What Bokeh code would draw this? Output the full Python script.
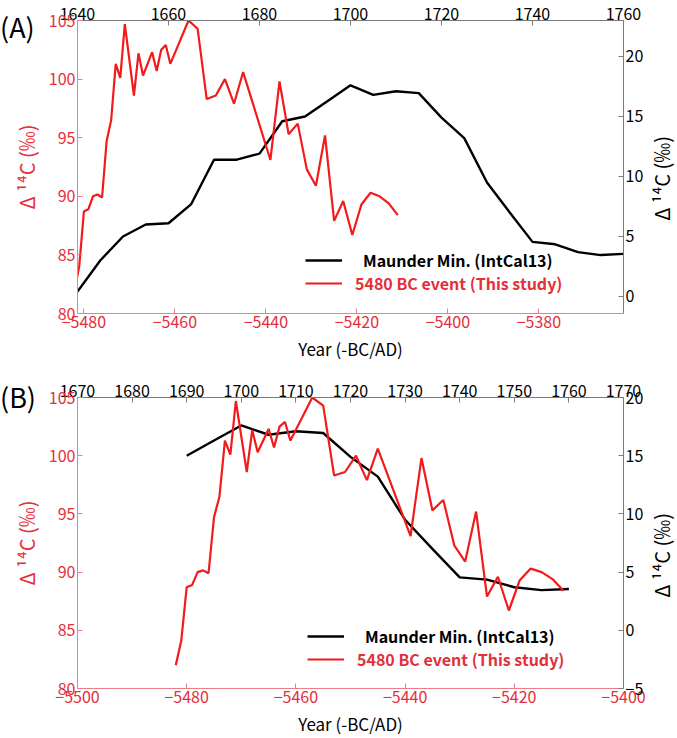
from bokeh.plotting import figure
from bokeh.models import (Range1d, LinearAxis, FixedTicker, CustomJSTickFormatter,
                          Legend, LegendItem, Div)
from bokeh.layouts import column
from bokeh.embed import file_html
from bokeh.resources import INLINE

# ---------------- data ----------------
# 5480 BC event (This study): year (BC as negative) and Delta14C (permil)
event_years = [-5482, -5481, -5480, -5479, -5478, -5477, -5476, -5475, -5474, -5473,
               -5472, -5471, -5469, -5468, -5467, -5465, -5464, -5463, -5462, -5461,
               -5457, -5455, -5453, -5451, -5449, -5447, -5445, -5439, -5437, -5435,
               -5433, -5431, -5429, -5427, -5425, -5423, -5421, -5419, -5417, -5415,
               -5413, -5411]
event_d14c = [82.0, 84.1, 88.7, 88.9, 90.0, 90.15, 89.9, 94.7, 96.5, 101.3,
              100.1, 104.7, 98.6, 102.2, 100.3, 102.3, 100.7, 102.5, 102.9, 101.3,
              105.0, 104.3, 98.3, 98.6, 100.0, 97.9, 100.6, 93.1, 99.8, 95.3,
              96.2, 92.3, 90.9, 95.2, 87.9, 89.6, 86.7, 89.3, 90.3, 90.0,
              89.4, 88.4]

# Maunder Minimum (IntCal13): year AD and Delta14C (permil)
maunder_years = [1640, 1645, 1650, 1655, 1660, 1665, 1670, 1675, 1680, 1685, 1690,
                 1695, 1700, 1705, 1710, 1715, 1720, 1725, 1730, 1735, 1740, 1745,
                 1750, 1755, 1760]
maunder_d14c = [0.4, 3.0, 5.0, 6.0, 6.1, 7.7, 11.4, 11.4, 11.9, 14.6, 15.0,
                16.3, 17.6, 16.8, 17.1, 16.95, 14.9, 13.2, 9.5, 7.0, 4.55, 4.35,
                3.7, 3.45, 3.55]

legend_labels = ["Maunder Min. (IntCal13)", "5480 BC event (This study)"]
panel_labels = ["(A)", "(B)"]

# ticks
left_ticks = [80, 85, 90, 95, 100, 105]
a_bottom_ticks = [-5480, -5460, -5440, -5420, -5400, -5380]
a_top_ticks = [1640, 1660, 1680, 1700, 1720, 1740, 1760]
a_right_ticks = [0, 5, 10, 15, 20]
b_bottom_ticks = [-5500, -5480, -5460, -5440, -5420, -5400]
b_top_ticks = [1670, 1680, 1690, 1700, 1710, 1720, 1730, 1740, 1750, 1760, 1770]
b_right_ticks = [-5, 0, 5, 10, 15, 20]

# ---------------- style ----------------
FONT = "Noto Sans CJK JP"
RED_LINE = "#f21a1a"
RED_TEXT = "#e52e3a"
RED_AXIS = "#ef7d86"
GRAY_AXIS = "#7a7a7a"
Y_LABEL = "\u0394 \u00b9\u2074C (\u2030)"
W = 677
BL, BR = 77, 54

minus_fmt = "return (tick < 0 ? '\\u2212' : '') + Math.abs(tick);"


def style_axis(ax, ticks, text_color, line_color, size):
    ax.ticker = FixedTicker(ticks=ticks)
    ax.formatter = CustomJSTickFormatter(code=minus_fmt)
    ax.major_label_text_color = text_color
    ax.major_label_text_font = FONT
    ax.major_label_text_font_size = size
    ax.axis_line_color = line_color
    ax.axis_line_width = 1
    ax.major_tick_line_color = line_color
    ax.major_tick_in = 5
    ax.major_tick_out = 0
    ax.minor_tick_line_color = None
    ax.major_label_standoff = 2
    ax.axis_label_text_font = FONT
    ax.axis_label_text_font_style = "normal"
    ax.axis_label_text_font_size = "17px"


def overlay(tag, right_top):
    """Panel tag (top-left corner) and right-hand axis title (reads bottom to top)."""
    html = (
        f'<div style="position:relative;width:{W}px;height:0px;overflow:visible;">'
        f'<span style="position:absolute;left:0px;top:0px;font-family:\'{FONT}\';'
        f'font-size:27px;line-height:30px;color:#000;white-space:nowrap;">{tag}</span>'
        f'<span style="position:absolute;left:651px;top:{right_top}px;font-family:\'{FONT}\';'
        f'font-size:20px;line-height:22px;color:#000;white-space:nowrap;'
        f'writing-mode:vertical-rl;text-orientation:sideways;'
        f'transform:rotate(180deg);">{Y_LABEL}</span>'
        '</div>')
    return Div(text=html, width=W, height=0, margin=0,
               styles={"position": "relative", "z-index": "5", "overflow": "visible"})


def make_panel(x_rng, top_rng, right_rng, bottom_ticks, top_ticks, right_ticks,
               m_min_year, height, border_top, border_bottom, leg_x, leg_y1, leg_y2):
    p = figure(width=W, height=height, output_backend="svg", toolbar_location=None,
               x_range=Range1d(*x_rng), y_range=Range1d(80, 105),
               min_border_left=BL, min_border_right=BR,
               min_border_top=border_top, min_border_bottom=border_bottom)
    p.outline_line_color = None
    p.xgrid.visible = False
    p.ygrid.visible = False
    p.background_fill_color = "white"
    p.border_fill_color = None

    p.extra_x_ranges = {"ad": Range1d(*top_rng)}
    p.extra_y_ranges = {"right": Range1d(*right_rng)}

    xb = p.xaxis[0]
    style_axis(xb, bottom_ticks, RED_TEXT, RED_AXIS, "16px")
    xb.axis_label = "Year (-BC/AD)"
    xb.axis_label_text_color = "black"
    xb.axis_label_standoff = 5

    yl = p.yaxis[0]
    style_axis(yl, left_ticks, RED_TEXT, RED_AXIS, "16px")
    yl.axis_label = Y_LABEL
    yl.axis_label_text_color = RED_TEXT
    yl.axis_label_text_font_size = "20px"
    yl.axis_label_standoff = 5

    xt = LinearAxis(x_range_name="ad")
    style_axis(xt, top_ticks, "black", GRAY_AXIS, "16px")
    xt.major_label_standoff = 1
    p.add_layout(xt, "above")

    yr = LinearAxis(y_range_name="right")
    style_axis(yr, right_ticks, "black", GRAY_AXIS, "16px")
    p.add_layout(yr, "right")

    mx = [y for y in maunder_years if y >= m_min_year]
    my = [v for y, v in zip(maunder_years, maunder_d14c) if y >= m_min_year]
    r_black = p.line(mx, my, x_range_name="ad", y_range_name="right",
                     line_color="black", line_width=2.4)
    r_red = p.line(event_years, event_d14c, line_color=RED_LINE, line_width=2.2)

    common = dict(border_line_color=None, background_fill_alpha=0, padding=0, margin=0,
                  glyph_width=37, glyph_height=20, label_height=20,
                  label_text_font=FONT, label_text_font_size="16px",
                  label_text_font_style="bold")
    leg1 = Legend(items=[LegendItem(label=legend_labels[0], renderers=[r_black])],
                  location=(leg_x, leg_y1), label_standoff=21,
                  label_text_color="black", **common)
    leg2 = Legend(items=[LegendItem(label=legend_labels[1], renderers=[r_red])],
                  location=(leg_x, leg_y2), label_standoff=13,
                  label_text_color=RED_TEXT, **common)
    p.add_layout(leg1)
    p.add_layout(leg2)
    return p


pa = make_panel((-5481.4, -5361.4), (1640, 1760), (-1.42, 23.0),
                a_bottom_ticks, a_top_ticks, a_right_ticks, 1640,
                height=370, border_top=20, border_bottom=57, leg_x=228, leg_y1=41, leg_y2=18)
pb = make_panel((-5500, -5400), (1670, 1770), (-5, 20),
                b_bottom_ticks, b_top_ticks, b_right_ticks, 1690,
                height=368, border_top=27, border_bottom=47, leg_x=230, leg_y1=40, leg_y2=17)

layout = column(overlay(panel_labels[0], 124), pa, overlay(panel_labels[1], 131), pb,
                spacing=0)
open("out.html", "w").write(file_html(layout, INLINE))
